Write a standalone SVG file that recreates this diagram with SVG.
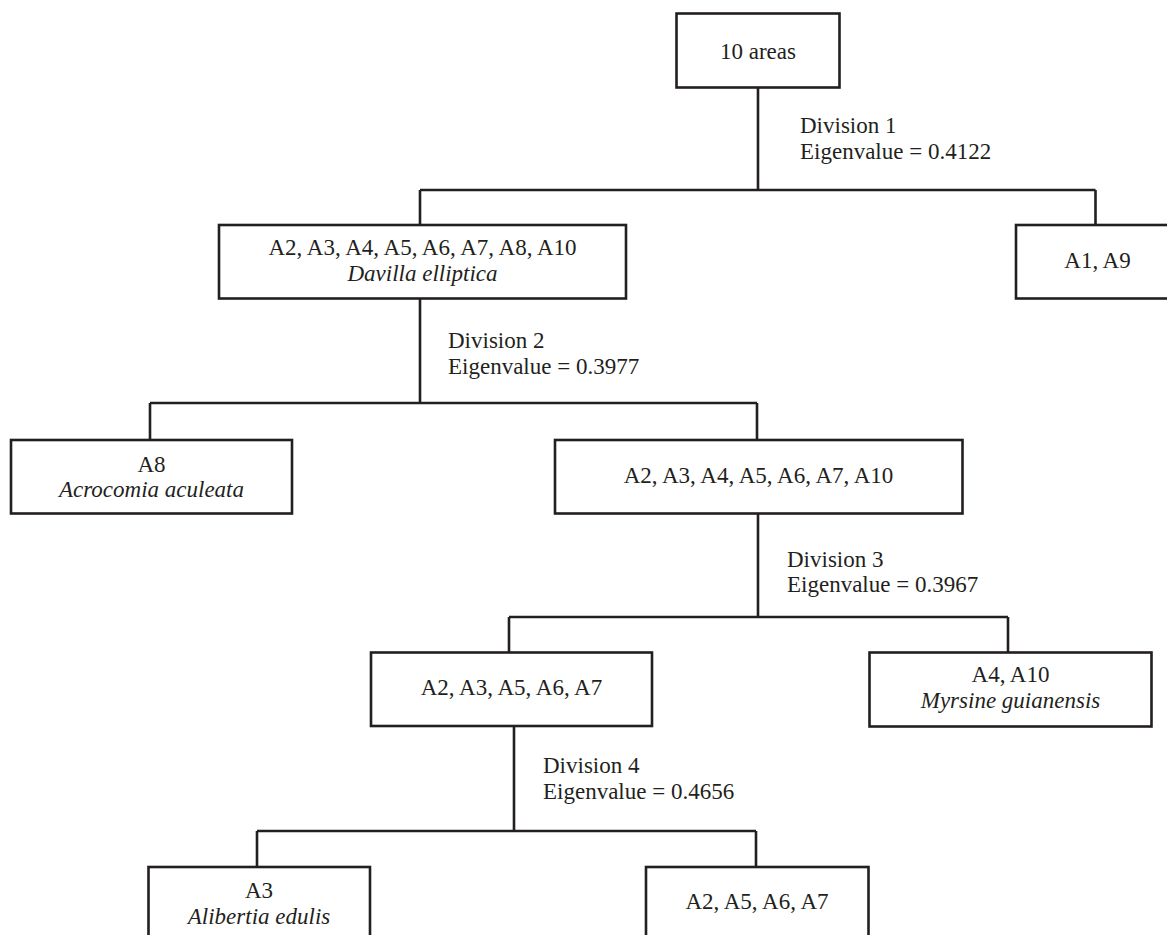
<svg xmlns="http://www.w3.org/2000/svg" width="1167" height="935" viewBox="0 0 1167 935">
<style>
.box{fill:#fff;stroke:#231f20;stroke-width:2.6}
.ln{fill:none;stroke:#231f20;stroke-width:2.6}
text{font-family:"Liberation Serif","Times New Roman",serif;font-size:23px;fill:#231f20}
.c{text-anchor:middle}
.i{font-style:italic}
</style>
<rect width="1167" height="935" fill="#fff"/>
<g id="connectors">
<path class="ln" d="M758 88V190M420 190H1095.5M420 190V225M1095.5 190V225"/>
<path class="ln" d="M420 298V403M150 403H757M150 403V440M757 403V440"/>
<path class="ln" d="M758 513.5V617M509 617H1008M509 617V652.5M1008 617V652.5"/>
<path class="ln" d="M514 726V831M257 831H756M257 831V867M756 831V867"/>
<text x="800" y="133">Division 1</text>
<text x="800" y="159">Eigenvalue = 0.4122</text>
<text x="448" y="348">Division 2</text>
<text x="448" y="374">Eigenvalue = 0.3977</text>
<text x="787" y="567">Division 3</text>
<text x="787" y="592">Eigenvalue = 0.3967</text>
<text x="543" y="773">Division 4</text>
<text x="543" y="799">Eigenvalue = 0.4656</text>
</g>
<g id="n-root">
<rect class="box" x="676.5" y="13.5" width="163" height="74"/>
<text class="c" x="758" y="59">10 areas</text>
</g>
<g id="n-l1">
<rect class="box" x="219" y="225" width="407" height="73.5"/>
<text class="c" x="422.5" y="255">A2, A3, A4, A5, A6, A7, A8, A10</text>
<text class="c i" x="422.5" y="281">Davilla elliptica</text>
</g>
<g id="n-r1">
<rect class="box" x="1016" y="225" width="200" height="73.5"/>
<text class="c" x="1097.5" y="268">A1, A9</text>
</g>
<g id="n-a8">
<rect class="box" x="11" y="440" width="281" height="73.5"/>
<text class="c" x="151.5" y="472">A8</text>
<text class="c i" x="151.5" y="497">Acrocomia aculeata</text>
</g>
<g id="n-r2">
<rect class="box" x="555" y="440" width="407.5" height="73.5"/>
<text class="c" x="758.5" y="483">A2, A3, A4, A5, A6, A7, A10</text>
</g>
<g id="n-l3">
<rect class="box" x="371" y="652.5" width="281" height="73.5"/>
<text class="c" x="511.5" y="695">A2, A3, A5, A6, A7</text>
</g>
<g id="n-r3">
<rect class="box" x="869.5" y="652.5" width="282" height="74"/>
<text class="c" x="1010.5" y="682">A4, A10</text>
<text class="c i" x="1010.5" y="708">Myrsine guianensis</text>
</g>
<g id="n-a3">
<rect class="box" x="148.5" y="867" width="221.5" height="100"/>
<text class="c" x="259" y="898">A3</text>
<text class="c i" x="259" y="924">Alibertia edulis</text>
</g>
<g id="n-r4">
<rect class="box" x="646" y="867" width="222.5" height="100"/>
<text class="c" x="757" y="909">A2, A5, A6, A7</text>
</g>
</svg>
